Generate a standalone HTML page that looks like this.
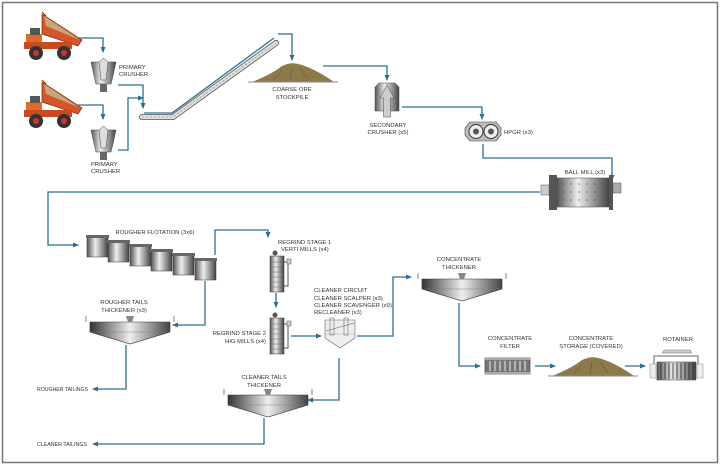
<!DOCTYPE html>
<html><head><meta charset="utf-8"><style>
html,body{margin:0;padding:0;background:#fff}
svg{display:block}
text{font-family:"Liberation Sans",sans-serif;font-size:5.9px;fill:#333}
.l{fill:none;stroke:#2d6f93;stroke-width:1.3}
</style></head><body>
<svg width="720" height="465" viewBox="0 0 720 465" xmlns="http://www.w3.org/2000/svg">
<defs>
<marker id="a" markerWidth="6" markerHeight="6" refX="5" refY="3" orient="auto" markerUnits="userSpaceOnUse"><path d="M0,0.5 L6,3 L0,5.5z" fill="#2d6f93"/></marker>
<linearGradient id="cyl" x1="0" x2="1"><stop offset="0" stop-color="#555"/><stop offset=".4" stop-color="#eee"/><stop offset="1" stop-color="#444"/></linearGradient>
<linearGradient id="th" x1="0" x2="1"><stop offset="0" stop-color="#333"/><stop offset=".5" stop-color="#eee"/><stop offset="1" stop-color="#444"/></linearGradient>
<g id="truck">
<path d="M20,2 L60,28 L56,34 L20,22z" fill="#d5562a" stroke="#7a2d10" stroke-width=".7"/>
<path d="M22,4 L58,28 L24,14z" fill="#c9a77a"/>
<line x1="20" y1="0" x2="24" y2="4" stroke="#7a2d10"/>
<rect x="4" y="22" width="16" height="12" fill="#e06a2c"/>
<rect x="8" y="16" width="10" height="7" fill="#555"/>
<rect x="2" y="30" width="48" height="7" fill="#c94a20"/>
<circle cx="14" cy="41" r="7" fill="#333"/><circle cx="14" cy="41" r="3" fill="#c33"/>
<circle cx="42" cy="41" r="7" fill="#333"/><circle cx="42" cy="41" r="3" fill="#c33"/>
</g>
<g id="pc">
<path d="M0,4 L25,4 L22,18 L20,26 L5,26 L3,18z" fill="url(#cyl)" stroke="#444" stroke-width=".5"/>
<path d="M8,4 L12.5,0 L17,4 L15,22 L10,22z" fill="#ddd" stroke="#444" stroke-width=".5"/>
<rect x="9" y="26" width="7" height="8" fill="#666"/>
</g>
<g id="tank">
<rect x="0" y="2" width="21" height="20" fill="url(#cyl)" stroke="#333" stroke-width=".5"/>
<rect x="-1" y="0" width="23" height="3" fill="#666"/>
</g>
<g id="mill">
<rect x="0" y="6" width="14" height="36" fill="url(#cyl)" stroke="#333" stroke-width=".5"/>
<g stroke="#555" stroke-width=".4"><line x1="1" y1="12" x2="13" y2="12"/><line x1="1" y1="17" x2="13" y2="17"/><line x1="1" y1="22" x2="13" y2="22"/><line x1="1" y1="27" x2="13" y2="27"/><line x1="1" y1="32" x2="13" y2="32"/><line x1="1" y1="37" x2="13" y2="37"/></g>
<circle cx="5" cy="3" r="2.5" fill="#555"/>
<path d="M14,12 H18 V36 H14" fill="none" stroke="#555"/><rect x="17" y="9" width="4" height="5" fill="#ccc" stroke="#555" stroke-width=".5"/>
</g>
<g id="thick">
<path d="M0,0 H80 V10 L40,22 L0,10z" fill="url(#th)" stroke="#333" stroke-width=".6"/>
<path d="M-4,-6 V0 M84,-6 V0" stroke="#333" stroke-width=".6"/>
<path d="M36,-6 H44 L42,0 H38z" fill="#888"/>
<line x1="0" y1="10" x2="80" y2="10" stroke="#777" stroke-width=".4"/>
</g>
<g id="pile">
<path d="M0,20 Q20,12 30,4 Q40,-1 50,3 Q65,8 82,20z" fill="#8c7a4a"/>
<line x1="-4" y1="20" x2="86" y2="20" stroke="#888"/>
<g stroke="#5a4b28" stroke-width=".5"><line x1="30" y1="8" x2="22" y2="18"/><line x1="40" y1="6" x2="38" y2="18"/><line x1="48" y1="6" x2="56" y2="17"/></g>
</g>
</defs>
<rect x="2.5" y="2.5" width="715" height="460" fill="#fff" stroke="#777" stroke-width="1.5"/>

<use href="#truck" x="22" y="12"/>
<use href="#truck" x="22" y="80"/>
<use href="#pc" x="91" y="58"/>
<use href="#pc" x="91" y="126"/>
<text x="119" y="69">PRIMARY</text><text x="119" y="76">CRUSHER</text>
<text x="91" y="166">PRIMARY</text><text x="91" y="173">CRUSHER</text>

<polyline class="l" points="78,38 103,38 103,52" marker-end="url(#a)"/>
<polyline class="l" points="78,105 103,105 103,119" marker-end="url(#a)"/>
<polyline class="l" points="118,85 143,85 143,108" marker-end="url(#a)"/>
<polyline class="l" points="118,150 128,150 128,98 143,98" marker-end="url(#a)"/>

<path d="M142,117 L173,117 L276,43" fill="none" stroke="#555" stroke-width="6" stroke-linecap="round"/>
<path d="M142,117 L173,117 L276,43" fill="none" stroke="#ddd" stroke-width="4.4" stroke-linecap="round"/>
<path d="M142,117 L173,117 L276,43" fill="none" stroke="#888" stroke-width=".6" stroke-dasharray="2 2"/>
<polyline class="l" points="144,113 172,113 274,38"/>
<polyline class="l" points="278,34 292,34 292,60" marker-end="url(#a)"/>
<use href="#pile" x="252" y="62"/>
<text x="292" y="91" text-anchor="middle">COARSE ORE</text><text x="292" y="99" text-anchor="middle">STOCKPILE</text>

<polyline class="l" points="323,66 387,66 387,80" marker-end="url(#a)"/>
<g transform="translate(375,83)">
<path d="M0,4 L4,0 L20,0 L24,4 L24,28 L0,28z" fill="url(#cyl)" stroke="#444" stroke-width=".5"/>
<path d="M12,2 L19,15 H15.5 V34 H8.5 V15 H5z" fill="#ccc" stroke="#444" stroke-width=".5"/>
</g>
<text x="388" y="127" text-anchor="middle">SECONDARY</text><text x="388" y="134" text-anchor="middle">CRUSHER (x5)</text>

<polyline class="l" points="402,107 482,107 482,119" marker-end="url(#a)"/>
<g transform="translate(466,122)">
<path d="M4,0 H30 L35,6 V13 L30,19 H4 L-1,13 V6z" fill="#bbb" stroke="#444" stroke-width=".6"/>
<circle cx="10" cy="9.5" r="7" fill="#eee" stroke="#333"/><circle cx="10" cy="9.5" r="3" fill="#555"/>
<circle cx="25" cy="9.5" r="7" fill="#eee" stroke="#333"/><circle cx="25" cy="9.5" r="3" fill="#555"/>
</g>
<text x="504" y="134">HPGR (x3)</text>

<polyline class="l" points="483,144 483,158 612,158 612,180" marker-end="url(#a)"/>
<g transform="translate(541,175)">
<rect x="0" y="10" width="8" height="10" fill="#ccc" stroke="#555" stroke-width=".5"/>
<rect x="8" y="0" width="8" height="35" fill="#555"/>
<rect x="16" y="3" width="52" height="29" fill="url(#cyl)" stroke="#444" stroke-width=".5"/>
<rect x="68" y="0" width="4" height="35" fill="#555"/>
<rect x="72" y="8" width="8" height="10" fill="#aaa" stroke="#555" stroke-width=".5"/>
<g fill="#444"><circle cx="22" cy="9" r=".6"/><circle cx="30" cy="9" r=".6"/><circle cx="38" cy="9" r=".6"/><circle cx="46" cy="9" r=".6"/><circle cx="54" cy="9" r=".6"/><circle cx="62" cy="9" r=".6"/><circle cx="22" cy="17" r=".6"/><circle cx="30" cy="17" r=".6"/><circle cx="38" cy="17" r=".6"/><circle cx="46" cy="17" r=".6"/><circle cx="54" cy="17" r=".6"/><circle cx="62" cy="17" r=".6"/><circle cx="22" cy="25" r=".6"/><circle cx="30" cy="25" r=".6"/><circle cx="38" cy="25" r=".6"/><circle cx="46" cy="25" r=".6"/><circle cx="54" cy="25" r=".6"/><circle cx="62" cy="25" r=".6"/></g>
</g>
<text x="585" y="174" text-anchor="middle">BALL MILL (x3)</text>

<polyline class="l" points="540,192 48,192 48,245 78,245" marker-end="url(#a)"/>

<use href="#tank" x="87" y="235"/>
<use href="#tank" x="108" y="240"/>
<use href="#tank" x="130" y="244"/>
<use href="#tank" x="151" y="249"/>
<use href="#tank" x="173" y="253"/>
<use href="#tank" x="195" y="258"/>
<text x="155" y="234" text-anchor="middle">ROUGHER FLOTATION (3x6)</text>

<polyline class="l" points="215,255 215,230 268,230 268,237" marker-end="url(#a)"/>
<use href="#mill" x="270" y="250"/>
<text x="278" y="244">REGRIND STAGE 1</text><text x="281" y="251">VERTI MILLS (x4)</text>
<polyline class="l" points="276,293 276,307" marker-end="url(#a)"/>
<use href="#mill" x="270" y="312"/>
<text x="266" y="335" text-anchor="end">REGRIND STAGE 2</text><text x="266" y="343" text-anchor="end">HIG MILLS (x4)</text>

<polyline class="l" points="291,336 321,336" marker-end="url(#a)"/>
<g transform="translate(325,320)">
<path d="M0,0 H30 V18 L15,28 L0,18z" fill="#eee" stroke="#666" stroke-width=".6"/>
<line x1="0" y1="14" x2="30" y2="14" stroke="#999" stroke-width=".4"/>
<rect x="5" y="-2" width="4" height="17" fill="none" stroke="#555" stroke-width=".5"/>
<rect x="19" y="-2" width="4" height="17" fill="none" stroke="#555" stroke-width=".5"/>
<line x1="1" y1="11" x2="29" y2="3" stroke="#555" stroke-width=".5"/>
</g>
<text x="314" y="292">CLEANER CIRCUIT</text>
<text x="314" y="300">CLEANER SCALPER (x3)</text>
<text x="314" y="307">CLEANER SCAVENGER (x9)</text>
<text x="314" y="314">RECLEANER (x3)</text>

<polyline class="l" points="357,336 393,336 393,277 411,277" marker-end="url(#a)"/>
<use href="#thick" x="422" y="279"/>
<text x="459" y="261" text-anchor="middle">CONCENTRATE</text><text x="459" y="269" text-anchor="middle">THICKENER</text>

<polyline class="l" points="459,303 459,366 480,366" marker-end="url(#a)"/>
<g transform="translate(485,358)">
<rect x="0" y="0" width="45" height="16" fill="#777" stroke="#333" stroke-width=".6"/>
<rect x="0" y="0" width="45" height="2" fill="#aaa"/><rect x="0" y="14" width="45" height="2" fill="#aaa"/>
<g stroke="#eee" stroke-width="1"><line x1="5" y1="3" x2="5" y2="13"/><line x1="10" y1="3" x2="10" y2="13"/><line x1="15" y1="3" x2="15" y2="13"/><line x1="20" y1="3" x2="20" y2="13"/><line x1="25" y1="3" x2="25" y2="13"/><line x1="30" y1="3" x2="30" y2="13"/><line x1="35" y1="3" x2="35" y2="13"/><line x1="40" y1="3" x2="40" y2="13"/></g>
</g>
<text x="510" y="340" text-anchor="middle">CONCENTRATE</text><text x="510" y="348" text-anchor="middle">FILTER</text>

<polyline class="l" points="535,366 555,366" marker-end="url(#a)"/>
<use href="#pile" x="552" y="356"/>
<text x="591" y="340" text-anchor="middle">CONCENTRATE</text><text x="591" y="348" text-anchor="middle">STORAGE (COVERED)</text>

<polyline class="l" points="625,366 645,366" marker-end="url(#a)"/>
<g transform="translate(650,350)">
<path d="M14,0 H40 L42,3 H12z" fill="#ccc" stroke="#777" stroke-width=".5"/>
<path d="M4,14 V6 H48 V14" fill="none" stroke="#999" stroke-width="1.5"/>
<rect x="0" y="14" width="6" height="14" fill="#eee" stroke="#999" stroke-width=".6"/>
<rect x="47" y="14" width="6" height="14" fill="#eee" stroke="#999" stroke-width=".6"/>
<rect x="7" y="12" width="39" height="18" fill="url(#cyl)" stroke="#333" stroke-width=".5"/>
<g stroke="#222" stroke-width=".8"><line x1="11" y1="13" x2="11" y2="29"/><line x1="15" y1="13" x2="15" y2="29"/><line x1="19" y1="13" x2="19" y2="29"/><line x1="23" y1="13" x2="23" y2="29"/><line x1="27" y1="13" x2="27" y2="29"/><line x1="31" y1="13" x2="31" y2="29"/><line x1="35" y1="13" x2="35" y2="29"/><line x1="39" y1="13" x2="39" y2="29"/><line x1="43" y1="13" x2="43" y2="29"/></g>
</g>
<text x="678" y="341" text-anchor="middle">ROTAINER</text>

<polyline class="l" points="205,281 205,325 173,325" marker-end="url(#a)"/>
<use href="#thick" x="90" y="322"/>
<text x="124" y="304" text-anchor="middle">ROUGHER TAILS</text><text x="124" y="312" text-anchor="middle">THICKENER (x3)</text>
<polyline class="l" points="126,345 126,389 93,389" marker-end="url(#a)"/>
<text x="37" y="391" textLength="51" lengthAdjust="spacingAndGlyphs">ROUGHER TAILINGS</text>

<polyline class="l" points="339,358 339,400 308,400" marker-end="url(#a)"/>
<use href="#thick" x="228" y="395"/>
<text x="264" y="379" text-anchor="middle">CLEANER TAILS</text><text x="264" y="387" text-anchor="middle">THICKENER</text>
<polyline class="l" points="264,418 264,444 93,444" marker-end="url(#a)"/>
<text x="37" y="446" textLength="50" lengthAdjust="spacingAndGlyphs">CLEANER TAILINGS</text>
</svg>
</body></html>
